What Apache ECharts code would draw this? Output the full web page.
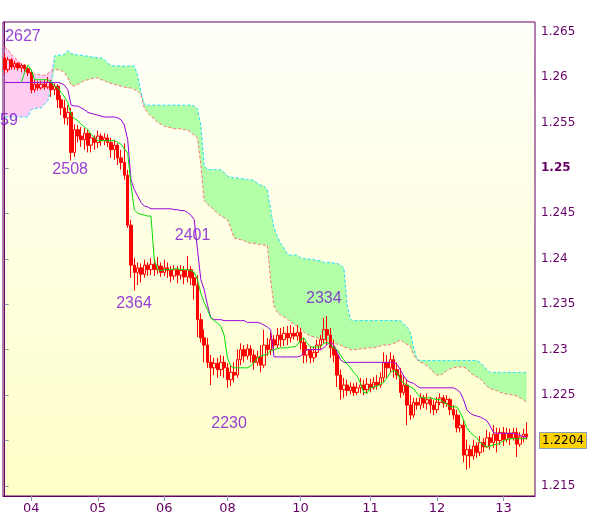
<!DOCTYPE html>
<html><head><meta charset="utf-8">
<script src="https://cdn.jsdelivr.net/npm/echarts@6/dist/echarts.min.js"></script>
<style>html,body{margin:0;padding:0;background:#fff}#c{width:600px;height:519px}</style>
</head><body><div id="c"></div>
<script>
const dayTickIndex = [8, 28, 48, 67, 89, 110, 130, 150];
const dayTickLabels = ['04', '05', '06', '08', '10', '11', '12', '13'];
const slotCount = 160;
const yMin = 1.2139, yMax = 1.26605;
const yTicks = [1.215, 1.22, 1.225, 1.23, 1.235, 1.24, 1.245, 1.25, 1.255, 1.26, 1.265];
const yLabelValues = [1.215, 1.225, 1.23, 1.235, 1.24, 1.245, 1.25, 1.255, 1.26, 1.265];

// [open, close, low, high]
const candles = [
[1.2621,1.2608,1.2603,1.2626],[1.2608,1.2619,1.2605,1.2622],[1.2619,1.2611,1.2608,1.2621],[1.2611,1.2615,1.2608,1.2618],
[1.2615,1.2610,1.2607,1.2616],[1.2610,1.2613,1.2605,1.2615],[1.2613,1.2609,1.2605,1.2614],[1.2609,1.2605,1.2601,1.2611],
[1.2605,1.2586,1.2582,1.2608],[1.2586,1.2592,1.2583,1.2597],[1.2592,1.2588,1.2585,1.2596],[1.2588,1.2592,1.2586,1.2596],
[1.2592,1.2589,1.2586,1.2597],[1.2589,1.2594,1.2587,1.2600],[1.2594,1.2586,1.2578,1.2597],[1.2586,1.2590,1.2580,1.2593],
[1.2590,1.2575,1.2566,1.2592],[1.2575,1.2566,1.2558,1.2580],[1.2566,1.2555,1.2548,1.2575],[1.2555,1.2561,1.2547,1.2569],
[1.2561,1.2517,1.2508,1.2566],[1.2517,1.2542,1.2512,1.2548],[1.2542,1.2535,1.2528,1.2547],[1.2535,1.2531,1.2523,1.2545],
[1.2531,1.2538,1.2520,1.2544],[1.2538,1.2525,1.2517,1.2542],[1.2525,1.2533,1.2517,1.2538],[1.2533,1.2528,1.2520,1.2536],
[1.2528,1.2535,1.2522,1.2541],[1.2535,1.2530,1.2524,1.2538],[1.2530,1.2533,1.2525,1.2538],[1.2533,1.2528,1.2523,1.2537],
[1.2528,1.2520,1.2511,1.2533],[1.2520,1.2525,1.2509,1.2531],[1.2525,1.2511,1.2503,1.2527],[1.2511,1.2506,1.2498,1.2520],
[1.2506,1.2492,1.2487,1.2527],[1.2492,1.2437,1.2434,1.2498],[1.2437,1.2393,1.2379,1.2443],[1.2393,1.2385,1.2365,1.2401],
[1.2385,1.2390,1.2371,1.2396],[1.2390,1.2383,1.2374,1.2395],[1.2383,1.2393,1.2379,1.2399],[1.2393,1.2388,1.2381,1.2396],
[1.2388,1.2394,1.2382,1.2401],[1.2394,1.2388,1.2381,1.2400],[1.2388,1.2392,1.2383,1.2402],[1.2392,1.2385,1.2380,1.2396],
[1.2385,1.2390,1.2381,1.2399],[1.2390,1.2387,1.2379,1.2396],[1.2387,1.2381,1.2374,1.2392],[1.2381,1.2388,1.2377,1.2393],
[1.2388,1.2382,1.2373,1.2392],[1.2382,1.2387,1.2377,1.2393],[1.2387,1.2380,1.2372,1.2392],[1.2380,1.2388,1.2374,1.2403],
[1.2388,1.2379,1.2371,1.2392],[1.2379,1.2371,1.2355,1.2385],[1.2371,1.2333,1.2314,1.2382],[1.2333,1.2313,1.2308,1.2340],
[1.2313,1.2305,1.2286,1.2322],[1.2305,1.2286,1.2280,1.2313],[1.2286,1.2280,1.2261,1.2294],[1.2280,1.2285,1.2272,1.2291],
[1.2285,1.2278,1.2269,1.2291],[1.2278,1.2286,1.2271,1.2294],[1.2286,1.2280,1.2269,1.2293],[1.2280,1.2267,1.2258,1.2285],
[1.2267,1.2275,1.2260,1.2282],[1.2275,1.2272,1.2264,1.2286],[1.2272,1.2289,1.2269,1.2300],[1.2289,1.2300,1.2283,1.2307],
[1.2300,1.2293,1.2286,1.2305],[1.2293,1.2301,1.2289,1.2306],[1.2301,1.2294,1.2286,1.2305],[1.2294,1.2286,1.2278,1.2300],
[1.2286,1.2292,1.2282,1.2299],[1.2292,1.2283,1.2275,1.2305],[1.2283,1.2305,1.2280,1.2322],[1.2305,1.2300,1.2293,1.2313],
[1.2300,1.2311,1.2294,1.2319],[1.2311,1.2305,1.2297,1.2316],[1.2305,1.2316,1.2302,1.2324],[1.2316,1.2311,1.2303,1.2324],
[1.2311,1.2318,1.2304,1.2325],[1.2318,1.2313,1.2305,1.2326],[1.2313,1.2318,1.2308,1.2327],[1.2318,1.2315,1.2311,1.2325],
[1.2315,1.2319,1.2310,1.2327],[1.2319,1.2308,1.2300,1.2324],[1.2308,1.2294,1.2285,1.2313],[1.2294,1.2300,1.2286,1.2305],
[1.2300,1.2291,1.2285,1.2304],[1.2291,1.2297,1.2286,1.2303],[1.2297,1.2305,1.2292,1.2311],[1.2305,1.2311,1.2300,1.2316],
[1.2311,1.2322,1.2307,1.2335],[1.2322,1.2316,1.2305,1.2337],[1.2316,1.2302,1.2291,1.2324],[1.2302,1.2294,1.2286,1.2311],
[1.2294,1.2272,1.2259,1.2300],[1.2272,1.2256,1.2245,1.2278],[1.2256,1.2261,1.2247,1.2269],[1.2261,1.2255,1.2249,1.2267],
[1.2255,1.2259,1.2251,1.2264],[1.2259,1.2253,1.2249,1.2263],[1.2253,1.2258,1.2250,1.2264],[1.2258,1.2261,1.2252,1.2269],
[1.2261,1.2256,1.2250,1.2267],[1.2256,1.2262,1.2252,1.2269],[1.2262,1.2258,1.2253,1.2268],[1.2258,1.2264,1.2256,1.2270],
[1.2264,1.2261,1.2256,1.2272],[1.2261,1.2269,1.2258,1.2275],[1.2269,1.2286,1.2264,1.2297],[1.2286,1.2280,1.2269,1.2294],
[1.2280,1.2289,1.2275,1.2297],[1.2289,1.2278,1.2269,1.2294],[1.2278,1.2272,1.2267,1.2286],[1.2272,1.2253,1.2247,1.2280],
[1.2253,1.2261,1.2250,1.2272],[1.2261,1.2239,1.2217,1.2267],[1.2239,1.2228,1.2223,1.2250],[1.2228,1.2242,1.2225,1.2247],
[1.2242,1.2239,1.2234,1.2247],[1.2239,1.2247,1.2234,1.2252],[1.2247,1.2241,1.2236,1.2250],[1.2241,1.2245,1.2234,1.2252],
[1.2245,1.2239,1.2230,1.2248],[1.2239,1.2234,1.2228,1.2245],[1.2234,1.2242,1.2230,1.2248],[1.2242,1.2247,1.2239,1.2252],
[1.2247,1.2241,1.2236,1.2250],[1.2241,1.2245,1.2237,1.2250],[1.2245,1.2234,1.2228,1.2247],[1.2234,1.2228,1.2223,1.2239],
[1.2228,1.2214,1.2209,1.2234],[1.2214,1.2217,1.2209,1.2228],[1.2217,1.2184,1.2176,1.2223],[1.2184,1.2190,1.2168,1.2201],
[1.2190,1.2183,1.2170,1.2195],[1.2183,1.2194,1.2179,1.2201],[1.2194,1.2187,1.2181,1.2198],[1.2187,1.2198,1.2183,1.2205],
[1.2198,1.2193,1.2187,1.2203],[1.2193,1.2203,1.2192,1.2212],[1.2203,1.2198,1.2190,1.2209],[1.2198,1.2207,1.2192,1.2217],
[1.2207,1.2200,1.2187,1.2214],[1.2200,1.2209,1.2195,1.2214],[1.2209,1.2201,1.2194,1.2215],[1.2201,1.2208,1.2198,1.2214],
[1.2208,1.2203,1.2195,1.2213],[1.2203,1.2209,1.2200,1.2214],[1.2209,1.2196,1.2182,1.2214],[1.2196,1.2204,1.2193,1.2209],
[1.2204,1.2207,1.2198,1.2213],[1.2207,1.2204,1.2201,1.2220]
];

const tenkan = [
null,null,null,null,null,1.2594,1.2605,1.2613,1.2608,1.2597,
1.2597,1.2597,1.2597,1.2597,1.2594,1.2590,1.2588,1.2583,1.2578,1.2572,
1.2558,1.2554,1.2552,1.2548,1.2545,1.2542,1.2537,1.2533,1.2530,1.2530,
1.2530,1.2530,1.2530,1.2530,1.2528,1.2526,1.2521,1.2516,1.2481,1.2454,
1.2450,1.2449,1.2448,1.2447,1.2447,1.2399,1.2388,1.2387,1.2388,1.2388,
1.2388,1.2389,1.2389,1.2388,1.2388,1.2388,1.2387,1.2385,1.2377,1.2362,
1.2352,1.2344,1.2335,1.2332,1.2329,1.2326,1.2316,1.2291,1.2282,1.2280,
1.2280,1.2280,1.2280,1.2280,1.2282,1.2286,1.2291,1.2293,1.2294,1.2295,
1.2299,1.2300,1.2301,1.2302,1.2302,1.2302,1.2303,1.2303,1.2305,1.2311,
1.2313,1.2307,1.2303,1.2303,1.2303,1.2303,1.2307,1.2308,1.2305,1.2302,
1.2300,1.2294,1.2289,1.2284,1.2280,1.2275,1.2271,1.2263,1.2253,1.2252,
1.2258,1.2259,1.2260,1.2262,1.2264,1.2269,1.2275,1.2277,1.2275,1.2267,
1.2263,1.2261,1.2259,1.2257,1.2252,1.2248,1.2247,1.2247,1.2247,1.2246,
1.2245,1.2245,1.2242,1.2240,1.2237,1.2237,1.2237,1.2231,1.2223,1.2214,
1.2209,1.2206,1.2203,1.2198,1.2195,1.2193,1.2194,1.2195,1.2196,1.2197,
1.2200,1.2201,1.2202,1.2202,1.2202,1.2202,1.2202,1.2202
];

const kijun = [
1.2594,1.2594,1.2594,1.2594,1.2594,1.2594,1.2594,1.2594,1.2594,1.2594,
1.2594,1.2594,1.2594,1.2594,1.2594,1.2594,1.2594,1.2593,1.2591,1.2586,
1.2569,1.2568,1.2568,1.2566,1.2564,1.2561,1.2560,1.2559,1.2558,1.2557,
1.2556,1.2556,1.2556,1.2556,1.2555,1.2553,1.2547,1.2531,1.2487,1.2476,
1.2469,1.2462,1.2458,1.2457,1.2455,1.2455,1.2455,1.2455,1.2455,1.2455,
1.2455,1.2454,1.2454,1.2453,1.2453,1.2451,1.2448,1.2443,1.2410,1.2377,
1.2366,1.2349,1.2335,1.2333,1.2333,1.2333,1.2332,1.2332,1.2332,1.2332,
1.2332,1.2332,1.2332,1.2330,1.2330,1.2330,1.2330,1.2329,1.2327,1.2325,
1.2322,1.2292,1.2292,1.2292,1.2292,1.2292,1.2292,1.2292,1.2292,1.2293,
1.2297,1.2300,1.2300,1.2300,1.2300,1.2300,1.2302,1.2306,1.2308,1.2305,
1.2297,1.2289,1.2286,1.2286,1.2286,1.2286,1.2286,1.2286,1.2286,1.2286,
1.2286,1.2286,1.2286,1.2286,1.2286,1.2286,1.2286,1.2286,1.2284,1.2278,
1.2271,1.2266,1.2264,1.2263,1.2260,1.2258,1.2258,1.2258,1.2258,1.2258,
1.2258,1.2258,1.2258,1.2258,1.2258,1.2258,1.2256,1.2253,1.2245,1.2234,
1.2230,1.2228,1.2227,1.2226,1.2224,1.2222,1.2216,1.2209,1.2208,1.2208,
1.2208,1.2208,1.2208,1.2208,1.2207,1.2206,1.2204,1.2204
];

const spanA = [
1.2556,1.2556,1.2556,1.2556,1.2556,1.2556,1.2556,1.2556,1.2564,1.2565,
1.2566,1.2566,1.2570,1.2574,1.2591,1.2623,1.2624,1.2624,1.2625,1.2629,
1.2626,1.2625,1.2624,1.2624,1.2623,1.2623,1.2622,1.2622,1.2621,1.2621,
1.2619,1.2615,1.2613,1.2612,1.2612,1.2612,1.2612,1.2612,1.2612,1.2612,
1.2602,1.2583,1.2570,1.2569,1.2569,1.2569,1.2569,1.2569,1.2569,1.2569,
1.2569,1.2569,1.2569,1.2569,1.2569,1.2569,1.2569,1.2568,1.2565,1.2547,
1.2503,1.2498,1.2498,1.2498,1.2498,1.2498,1.2495,1.2491,1.2490,1.2489,
1.2489,1.2488,1.2488,1.2487,1.2487,1.2486,1.2483,1.2481,1.2480,1.2476,
1.2454,1.2434,1.2425,1.2417,1.2412,1.2405,1.2404,1.2404,1.2404,1.2401,
1.2400,1.2400,1.2399,1.2399,1.2398,1.2398,1.2396,1.2396,1.2396,1.2395,
1.2395,1.2393,1.2390,1.2349,1.2333,1.2332,1.2332,1.2332,1.2332,1.2332,
1.2332,1.2332,1.2332,1.2332,1.2332,1.2332,1.2332,1.2332,1.2332,1.2332,
1.2328,1.2325,1.2319,1.2302,1.2289,1.2288,1.2288,1.2288,1.2288,1.2288,
1.2288,1.2288,1.2288,1.2288,1.2288,1.2288,1.2288,1.2288,1.2288,1.2288,
1.2288,1.2288,1.2288,1.2286,1.2282,1.2278,1.2275,1.2275,1.2275,1.2275,
1.2275,1.2275,1.2275,1.2275,1.2275,1.2275,1.2275,1.2275
];

const spanB = [
1.2633,1.2630,1.2625,1.2621,1.2618,1.2614,1.2608,1.2604,1.2604,1.2603,
1.2603,1.2602,1.2602,1.2604,1.2607,1.2608,1.2608,1.2607,1.2605,1.2599,
1.2591,1.2590,1.2592,1.2594,1.2596,1.2597,1.2598,1.2599,1.2599,1.2597,
1.2596,1.2594,1.2593,1.2592,1.2591,1.2590,1.2589,1.2588,1.2588,1.2586,
1.2585,1.2580,1.2566,1.2561,1.2557,1.2554,1.2550,1.2548,1.2546,1.2545,
1.2544,1.2543,1.2543,1.2543,1.2542,1.2542,1.2539,1.2536,1.2533,1.2503,
1.2464,1.2460,1.2457,1.2454,1.2450,1.2447,1.2445,1.2443,1.2434,1.2423,
1.2422,1.2421,1.2420,1.2418,1.2417,1.2417,1.2416,1.2416,1.2415,1.2415,
1.2377,1.2348,1.2341,1.2338,1.2336,1.2334,1.2330,1.2328,1.2326,1.2323,
1.2319,1.2317,1.2315,1.2314,1.2313,1.2312,1.2311,1.2310,1.2308,1.2307,
1.2306,1.2305,1.2303,1.2302,1.2300,1.2300,1.2300,1.2301,1.2301,1.2302,
1.2302,1.2302,1.2303,1.2304,1.2305,1.2305,1.2306,1.2307,1.2308,1.2311,
1.2308,1.2306,1.2304,1.2294,1.2289,1.2286,1.2285,1.2282,1.2279,1.2275,
1.2272,1.2272,1.2274,1.2277,1.2279,1.2280,1.2281,1.2281,1.2281,1.2279,
1.2275,1.2272,1.2270,1.2268,1.2264,1.2260,1.2257,1.2256,1.2255,1.2253,
1.2252,1.2251,1.2251,1.2250,1.2249,1.2247,1.2245,1.2242
];

const noteText = ['2627', '2508', '2401', '2364', '2334', '2230', '59'];
const noteIdx = [5.5, 19.7, 56.5, 38.9, 96.0, 67.5, 1.3];
const notePrice = [1.2644, 1.2498, 1.2425, 1.2351, 1.2356, 1.2219, 1.2552];

// ---- build option ----
const categories = [];
for (let i = 0; i < slotCount; i++) categories.push(String(i));
const tickLabelOf = {};
dayTickIndex.forEach((k, j) => { tickLabelOf[k] = dayTickLabels[j]; });
const kumoBase = spanA.map((a, i) => Math.min(a, spanB[i]));
const kumoUp = spanA.map((a, i) => Math.max(a - spanB[i], 0));
const kumoDown = spanA.map((a, i) => Math.max(spanB[i] - a, 0));
const lastClose = candles[candles.length - 1][1];
const notes = noteText.map((t, i) => [noteIdx[i], notePrice[i], t]);

const chart = echarts.init(document.getElementById('c'), null, { renderer: 'canvas' });
chart.setOption({
  animation: false,
  textStyle: { fontFamily: 'DejaVu Sans' },
  grid: {
    left: 3, right: 65, top: 22, bottom: 23, show: true,
    borderColor: '#660066', borderWidth: 1,
    backgroundColor: new echarts.graphic.LinearGradient(0, 0, 0, 1, [
      { offset: 0, color: '#fffffa' }, { offset: 1, color: '#ffffc8' }
    ])
  },
  xAxis: [{
    type: 'category', data: categories, boundaryGap: true,
    axisLine: { show: true, lineStyle: { color: '#660066' } },
    axisTick: { show: true, alignWithLabel: true, interval: (i) => (i in tickLabelOf), length: 5, lineStyle: { color: '#8899aa' } },
    axisLabel: { interval: (i) => (i in tickLabelOf), formatter: (v, i) => tickLabelOf[i] || '', color: '#660066', fontSize: 13, margin: 6 },
    splitLine: { show: false }
  }, {
    type: 'value', min: -0.5, max: slotCount - 0.5, show: false
  }],
  yAxis: {
    type: 'value', position: 'right', min: yMin, max: yMax,
    axisLine: { show: true, lineStyle: { color: '#660066' } },
    axisTick: { show: true, customValues: yTicks, length: 4, lineStyle: { color: '#8899aa' } },
    axisLabel: {
      customValues: yLabelValues, margin: 6, color: '#660066', fontSize: 12,
      formatter: (v) => {
        const s = String(Math.round(v * 1000) / 1000);
        return Math.abs(v - 1.25) < 1e-9 ? '{b|' + s + '}' : s;
      },
      rich: { b: { fontWeight: 'bold', fontSize: 12, color: '#660066', fontFamily: 'DejaVu Sans' } }
    },
    splitLine: { show: false }
  },
  series: [
    { type: 'line', data: kumoBase, stack: 'kumo', symbol: 'none', lineStyle: { width: 0, color: 'rgba(0,0,0,0)' }, z: 1, silent: true },
    { type: 'line', data: kumoUp, stack: 'kumo', symbol: 'none', lineStyle: { width: 0, color: 'rgba(0,0,0,0)' }, areaStyle: { color: '#b3ffa8', opacity: 1 }, z: 1, silent: true },
    { type: 'line', data: kumoDown, stack: 'kumo', symbol: 'none', lineStyle: { width: 0, color: 'rgba(0,0,0,0)' }, areaStyle: { color: '#ffccf2', opacity: 1 }, z: 1, silent: true },
    { type: 'line', data: spanA, symbol: 'none', lineStyle: { color: '#22ddff', width: 1, type: [3, 2] }, z: 2, silent: true },
    { type: 'line', data: spanB, symbol: 'none', lineStyle: { color: '#ff6f6f', width: 1, type: [3, 2] }, z: 2, silent: true },
    {
      type: 'candlestick', data: candles, barWidth: 3, clip: false, z: 3,
      itemStyle: { color: 'rgba(0,0,0,0)', color0: '#ff0000', borderColor: '#ff0000', borderColor0: '#ff0000', borderWidth: 1 },
      markLine: {
        silent: true, symbol: ['none', 'none'], animation: false,
        lineStyle: { color: 'rgba(0,0,0,0)', width: 1, type: 'solid' },
        label: {
          show: true, position: 'end', distance: 5, formatter: lastClose.toFixed(4),
          color: '#000', fontSize: 12, fontFamily: 'DejaVu Sans',
          backgroundColor: '#ffd200', borderColor: '#8aa0b8', borderWidth: 1, padding: [2, 2, 1, 2]
        },
        data: [{ yAxis: lastClose }]
      }
    },
    { type: 'line', data: kijun, symbol: 'none', lineStyle: { color: '#9900dd', width: 1 }, z: 4, silent: true },
    { type: 'line', data: tenkan, symbol: 'none', lineStyle: { color: '#00e000', width: 1 }, z: 4, silent: true },
    {
      type: 'scatter', xAxisIndex: 1, data: notes, symbolSize: 1, z: 5, silent: true,
      itemStyle: { color: 'rgba(0,0,0,0)' },
      label: { show: true, position: 'inside', formatter: (p) => p.data[2], fontFamily: 'Liberation Sans', fontSize: 16, color: '#7a10d0' }
    }
  ]
});
</script>
</body></html>
